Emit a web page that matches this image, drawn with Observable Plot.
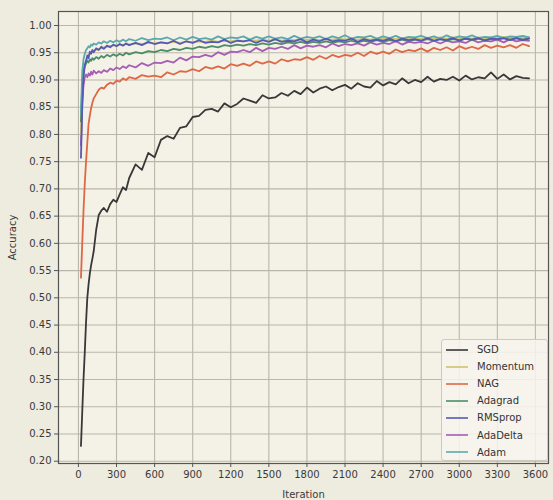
<!DOCTYPE html>
<html><head><meta charset="utf-8">
<script src="https://cdn.jsdelivr.net/npm/d3@7"></script>
<script src="https://cdn.jsdelivr.net/npm/@observablehq/plot@0.6"></script>
<style>
html,body{margin:0;padding:0;background:#eeebdf;}
#wrap{position:relative;width:553px;height:500px;font-family:"DejaVu Sans",sans-serif;}
#legend{position:absolute;left:441px;top:339px;width:107px;height:122px;box-sizing:border-box;border:1px solid #cdc9bd;border-radius:3px;background:rgba(247,245,237,0.85);padding-top:1px;}
.item{display:flex;align-items:center;height:17.1px;font-size:10px;color:#333;}
.item svg{margin-left:4px;margin-right:9px;}
</style></head><body><div id="wrap"></div>
<script>
const iterations = [20,30,40,50,60,70,80,90,100,110,120,140,160,180,200,225,250,275,300,325,350,375,400,
  450,500,550,600,650,700,750,800,850,900,
  950,1000,1050,1100,1150,1200,1250,1300,1350,1400,
  1450,1500,1550,1600,1650,1700,1750,1800,1850,1900,
  1950,2000,2050,2100,2150,2200,2250,2300,2350,2400,
  2450,2500,2550,2600,2650,2700,2750,2800,2850,2900,
  2950,3000,3050,3100,3150,3200,3250,3300,3350,3400,
  3450,3500,3550];

const seriesNames = ["SGD","Momentum","NAG","Adagrad","RMSprop","AdaDelta","Adam"];
const seriesColors = ["#383838","#cbc46c","#de6845","#4d8c68","#5659b4","#a65db5","#5ba9ad"];

const sgd = [0.228,0.29,0.35,0.40,0.455,0.50,0.525,0.545,0.56,0.572,0.585,0.625,0.652,0.66,0.665,0.658,0.672,0.68,0.676,0.69,0.703,0.698,0.72,
  0.745,0.735,0.766,0.758,0.79,0.797,0.792,0.812,0.815,0.832,
  0.834,0.845,0.847,0.842,0.857,0.85,0.856,0.866,0.862,0.858,
  0.872,0.866,0.868,0.876,0.871,0.88,0.874,0.886,0.877,0.884,
  0.888,0.881,0.887,0.891,0.884,0.894,0.888,0.886,0.898,0.89,
  0.896,0.892,0.903,0.894,0.90,0.896,0.906,0.897,0.902,0.90,
  0.906,0.899,0.908,0.901,0.905,0.903,0.914,0.902,0.91,0.901,
  0.907,0.904,0.903];

const momentum = [0.80,0.88,0.91,0.925,0.935,0.94,0.945,0.948,0.95,0.952,0.954,0.955,0.957,0.958,0.96,0.961,0.962,0.963,0.963,0.965,0.964,0.966,0.965,
  0.967,0.966,0.968,0.967,0.969,0.968,0.97,0.968,0.971,0.969,
  0.971,0.97,0.972,0.97,0.972,0.971,0.973,0.971,0.973,0.972,
  0.974,0.972,0.974,0.972,0.974,0.973,0.975,0.973,0.975,0.973,
  0.975,0.974,0.976,0.974,0.976,0.974,0.976,0.974,0.976,0.975,
  0.977,0.975,0.977,0.975,0.977,0.975,0.977,0.976,0.978,0.976,
  0.978,0.976,0.978,0.976,0.978,0.977,0.978,0.977,0.979,0.977,
  0.979,0.977,0.978];

const nag = [0.537,0.60,0.66,0.71,0.75,0.785,0.82,0.835,0.848,0.858,0.866,0.874,0.882,0.886,0.884,0.891,0.895,0.893,0.899,0.897,0.903,0.90,0.905,
  0.902,0.909,0.906,0.908,0.905,0.914,0.91,0.916,0.915,0.92,
  0.916,0.924,0.921,0.925,0.921,0.929,0.926,0.93,0.926,0.934,
  0.93,0.934,0.93,0.938,0.934,0.938,0.937,0.942,0.937,0.944,
  0.939,0.946,0.942,0.946,0.944,0.95,0.944,0.952,0.948,0.952,
  0.948,0.956,0.951,0.955,0.953,0.958,0.952,0.959,0.955,0.96,
  0.954,0.962,0.957,0.961,0.957,0.964,0.959,0.963,0.96,0.964,
  0.959,0.966,0.962];

const adagrad = [0.824,0.89,0.915,0.925,0.93,0.935,0.932,0.938,0.935,0.94,0.937,0.942,0.939,0.944,0.941,0.946,0.943,0.947,0.944,0.948,0.945,0.95,0.947,
  0.951,0.949,0.953,0.951,0.955,0.953,0.957,0.955,0.959,0.957,
  0.961,0.959,0.962,0.96,0.964,0.962,0.965,0.963,0.966,0.964,
  0.967,0.965,0.968,0.966,0.969,0.967,0.97,0.967,0.97,0.968,
  0.971,0.968,0.971,0.969,0.972,0.969,0.972,0.97,0.973,0.97,
  0.973,0.971,0.974,0.971,0.974,0.972,0.975,0.972,0.975,0.972,
  0.975,0.973,0.976,0.973,0.976,0.973,0.976,0.974,0.977,0.974,
  0.977,0.974,0.977];

const rmsprop = [0.757,0.85,0.905,0.928,0.935,0.945,0.94,0.952,0.948,0.955,0.951,0.958,0.955,0.961,0.957,0.963,0.96,0.965,0.962,0.966,0.963,0.967,0.964,
  0.968,0.964,0.97,0.966,0.969,0.967,0.972,0.966,0.971,0.968,
  0.973,0.968,0.97,0.969,0.974,0.968,0.972,0.971,0.973,0.968,
  0.973,0.97,0.975,0.97,0.972,0.971,0.975,0.969,0.974,0.971,
  0.976,0.971,0.973,0.972,0.976,0.97,0.975,0.972,0.974,0.972,
  0.976,0.971,0.976,0.973,0.975,0.972,0.977,0.972,0.975,0.973,
  0.977,0.972,0.976,0.974,0.977,0.972,0.976,0.975,0.977,0.973,
  0.977,0.973,0.976];

const adadelta = [0.78,0.86,0.89,0.905,0.91,0.905,0.912,0.908,0.915,0.91,0.917,0.912,0.916,0.913,0.918,0.915,0.921,0.918,0.923,0.92,0.925,0.922,0.927,
  0.923,0.931,0.926,0.932,0.931,0.935,0.932,0.941,0.936,0.943,
  0.942,0.946,0.943,0.951,0.946,0.952,0.951,0.955,0.951,0.959,
  0.953,0.959,0.957,0.961,0.957,0.964,0.958,0.963,0.961,0.964,
  0.96,0.967,0.962,0.966,0.964,0.967,0.963,0.969,0.965,0.968,
  0.966,0.971,0.965,0.97,0.968,0.97,0.967,0.972,0.967,0.972,
  0.969,0.971,0.968,0.974,0.969,0.972,0.971,0.974,0.969,0.975,
  0.971,0.973,0.972];

const adam = [0.84,0.915,0.938,0.948,0.955,0.958,0.962,0.96,0.965,0.963,0.967,0.965,0.969,0.967,0.971,0.968,0.972,0.969,0.973,0.97,0.974,0.971,0.975,
  0.972,0.977,0.973,0.976,0.975,0.978,0.973,0.978,0.974,0.979,
  0.975,0.977,0.974,0.98,0.975,0.978,0.977,0.98,0.974,0.979,
  0.976,0.98,0.976,0.978,0.975,0.981,0.976,0.979,0.977,0.98,
  0.975,0.98,0.977,0.982,0.976,0.979,0.978,0.981,0.976,0.98,
  0.977,0.981,0.976,0.979,0.978,0.981,0.977,0.98,0.976,0.982,
  0.977,0.98,0.978,0.982,0.977,0.979,0.978,0.981,0.977,0.98,
  0.979,0.981,0.978];

const xTicks = [0,300,600,900,1200,1500,1800,2100,2400,2700,3000,3300,3600];
const yTicks = [0.20,0.25,0.30,0.35,0.40,0.45,0.50,0.55,0.60,0.65,0.70,0.75,0.80,0.85,0.90,0.95,1.00];

const seriesValues = {SGD: sgd, Momentum: momentum, NAG: nag, Adagrad: adagrad, RMSprop: rmsprop, AdaDelta: adadelta, Adam: adam};
const drawOrder = ["SGD","NAG","AdaDelta","Momentum","Adagrad","Adam","RMSprop"];
const rows = drawOrder.flatMap(name => seriesValues[name].map((v, i) => ({series: name, iter: iterations[i], acc: v})));

const chart = Plot.plot({
  width: 553, height: 500,
  marginLeft: 58, marginRight: 5, marginTop: 11, marginBottom: 37,
  style: {background: "transparent", fontFamily: "'DejaVu Sans', sans-serif", fontSize: "10px", color: "#3a3a3a"},
  x: {domain: [-157, 3703], label: null},
  y: {domain: [0.1958, 1.0257], label: null},
  color: {domain: seriesNames, range: seriesColors},
  marks: [
    Plot.frame({fill: "#f4f1e6", stroke: "none"}),
    Plot.gridX(xTicks, {stroke: "#bbb6a9", strokeOpacity: 1, strokeWidth: 1.1}),
    Plot.gridY(yTicks, {stroke: "#bbb6a9", strokeOpacity: 1, strokeWidth: 1.1}),
    Plot.line(rows, {x: "iter", y: "acc", z: "series", stroke: "series", strokeWidth: 1.8, strokeLinejoin: "round", curve: "linear"}),
    Plot.frame({stroke: "#555", strokeWidth: 1.2}),
    Plot.axisX(xTicks, {tickSize: 4, tickPadding: 3, stroke: "#555", tickFormat: d => String(d), label: "Iteration", labelAnchor: "center", labelOffset: 34, labelArrow: false}),
    Plot.axisY(yTicks, {tickSize: 4, tickPadding: 3, stroke: "#555", tickFormat: d3.format(".2f"), label: "Accuracy", labelAnchor: "center", labelOffset: 50, labelArrow: false})
  ]
});

const wrap = document.getElementById("wrap");
wrap.appendChild(chart);

const legend = document.createElement("div");
legend.id = "legend";
seriesNames.forEach((name, i) => {
  const item = document.createElement("div");
  item.className = "item";
  item.innerHTML = `<svg width="22" height="4"><line x1="0" y1="2" x2="22" y2="2" stroke="${seriesColors[i]}" stroke-width="1.6"/></svg><span>${name}</span>`;
  legend.appendChild(item);
});
wrap.appendChild(legend);
</script>
</body></html>
